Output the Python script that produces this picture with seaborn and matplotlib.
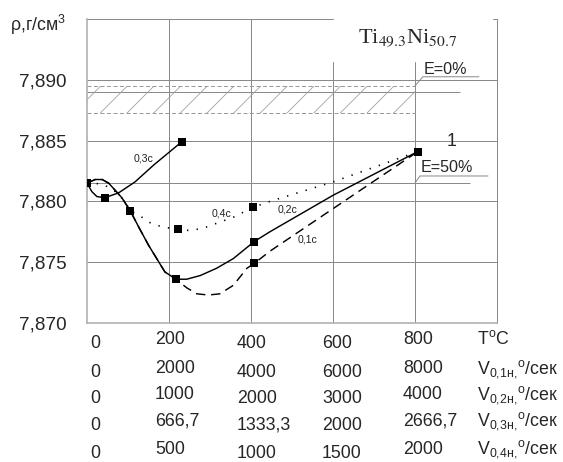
import matplotlib
matplotlib.use('Agg')
import matplotlib.pyplot as plt
import matplotlib.transforms as mtransforms
import pandas as pd
import seaborn as sns

# markers (T in °C, density in g/cm3)
t_03 = [0, 44, 231]
rho_03 = [7.8815, 7.8803, 7.8849]
t_02 = [0, 106, 217, 408, 807]
rho_02 = [7.8815, 7.8792, 7.8736, 7.8767, 7.8841]
t_01 = [0, 106, 217, 408, 807]
rho_01 = [7.8815, 7.8792, 7.8736, 7.8749, 7.8841]
t_04 = [0, 106, 223, 404, 807]
rho_04 = [7.8815, 7.8792, 7.8777, 7.8795, 7.8841]

# smoothed curves as traced on the chart
curve_03_t = [0, 12, 24, 43, 77, 117, 163, 231]
curve_03_rho = [7.8815, 7.8808, 7.8804, 7.8803, 7.8807, 7.8816, 7.8830, 7.8849]
curve_02_t = [0, 20, 37, 53, 69, 85, 106, 126, 150, 170, 190, 217, 243, 276, 316, 357, 408, 446, 600, 807]
curve_02_rho = [7.8815, 7.8818, 7.8818, 7.8815, 7.8809, 7.8803, 7.8792, 7.8779, 7.8764, 7.8753,
                7.8742, 7.8736, 7.8736, 7.8739, 7.8745, 7.8753, 7.8767, 7.8775, 7.8805, 7.8841]
curve_01_t = [0, 20, 37, 53, 69, 85, 106, 126, 150, 170, 190, 217, 243, 268, 296, 324, 357, 390, 408, 446, 600, 807]
curve_01_rho = [7.8815, 7.8818, 7.8818, 7.8815, 7.8809, 7.8803, 7.8792, 7.8779, 7.8764, 7.8753,
                7.8742, 7.8736, 7.8729, 7.8724, 7.8723, 7.8724, 7.8731, 7.8745, 7.8749, 7.8759, 7.8794, 7.8841]
curve_04_t = [0, 20, 45, 69, 90, 106, 126, 150, 183, 223, 251, 284, 316, 357, 404, 446, 600, 807]
curve_04_rho = [7.8815, 7.8815, 7.8813, 7.8808, 7.8801, 7.8792, 7.8789, 7.8783, 7.8779, 7.8777,
                7.8776, 7.8778, 7.8782, 7.8787, 7.8795, 7.8800, 7.8816, 7.8841]

# reference band and levels
band_lo, band_mid, band_hi = 7.8873, 7.8890, 7.8895
e50_level = 7.8815

yticks = [7.870, 7.875, 7.880, 7.885, 7.890]
ytick_labels = ['7,870', '7,875', '7,880', '7,885', '7,890']

temp_labels = ['0', '200', '400', '600', '800']
v01_labels = ['0', '2000', '4000', '6000', '8000']
v02_labels = ['0', '1000', '2000', '3000', '4000']
v03_labels = ['0', '666,7', '1333,3', '2000', '2666,7']
v04_labels = ['0', '500', '1000', '1500', '2000']
row_names = [r'T$^{\mathrm{o}}$C',
             r'V$_{\mathrm{0{,}1н{,}}}$$^{\mathrm{o}}$/сек',
             r'V$_{\mathrm{0{,}2н{,}}}$$^{\mathrm{o}}$/сек',
             r'V$_{\mathrm{0{,}3н{,}}}$$^{\mathrm{o}}$/сек',
             r'V$_{\mathrm{0{,}4н{,}}}$$^{\mathrm{o}}$/сек']

sns.set_theme(style='white')
plt.rcParams['font.family'] = ['Liberation Sans', 'DejaVu Sans']
plt.rcParams['mathtext.fontset'] = 'custom'
plt.rcParams['mathtext.rm'] = 'Liberation Sans'
plt.rcParams['mathtext.it'] = 'Liberation Sans:italic'
plt.rcParams['hatch.linewidth'] = 0.7

DPI = 80
W, H = 563, 462
fig = plt.figure(figsize=(W / DPI, H / DPI), dpi=DPI)
ax = fig.add_axes([87 / W, 1 - 323 / H, 410 / W, 304 / H])
ax.set_xlim(0, 1000)
ax.set_ylim(7.870, 7.895)

gc = '#8a8a8a'
# grid
for y in yticks[1:]:
    ax.axhline(y, color=gc, lw=0.9, zorder=1)
ax.axhline(7.895, xmax=0.6, color=gc, lw=0.9)
ax.axhline(7.895, xmin=0.99, color=gc, lw=0.9)
ax.axvline(200, color=gc, lw=0.9, zorder=1)
ax.axvline(400, color=gc, lw=0.9, zorder=1)
ax.axvline(600, ymax=0.86, color=gc, lw=0.9, zorder=1)
ax.axvline(800, ymax=0.86, color=gc, lw=0.9, zorder=1)
ax.hlines(e50_level, 0, 934, color=gc, lw=0.9, zorder=1)
ax.hlines(band_mid, 0, 910, color=gc, lw=0.9, zorder=1)

# hatched band
ax.fill_between([0, 800], band_lo, band_hi, facecolor='none', edgecolor='#9a9a9a',
                hatch='/', linewidth=0, zorder=1)
ax.hlines([band_lo, band_hi], 0, 800, color='#9a9a9a', lw=0.9, linestyles=(0, (4, 2.5)), zorder=1)

# E labels with leaders
ax.plot([800, 819, 956], [band_hi, 7.89025, 7.89025], color=gc, lw=0.9)
ax.text(822, 7.89045, 'E=0%', fontsize=14.5, ha='left', va='baseline')
ax.plot([800, 812, 978], [e50_level, 7.88209, 7.88209], color=gc, lw=0.9)
ax.text(814, 7.88244, 'E=50%', fontsize=14.5, ha='left', va='baseline')
ax.text(888, 7.8849, '1', fontsize=16, ha='center', va='center')

# curves
sns.lineplot(x=curve_03_t, y=curve_03_rho, color='black', lw=1.3, estimator=None, sort=False, ax=ax)
sns.lineplot(x=curve_02_t, y=curve_02_rho, color='black', lw=1.3, estimator=None, sort=False, ax=ax)
sns.lineplot(x=curve_01_t, y=curve_01_rho, color='black', lw=1.3, estimator=None, sort=False,
             linestyle=(0, (6.5, 4)), ax=ax)
sns.lineplot(x=curve_04_t, y=curve_04_rho, color='black', lw=1.5, estimator=None, sort=False,
             linestyle=(0, (0.8, 5)), ax=ax)

markers = pd.DataFrame({
    't': t_03 + t_02 + t_01 + t_04,
    'rho': rho_03 + rho_02 + rho_01 + rho_04,
})
sns.scatterplot(data=markers, x='t', y='rho', marker='s', s=50, color='black',
                linewidth=0, zorder=5, ax=ax)

# curve labels
lab_kw = dict(fontsize=9.5, color='#222222', ha='center', va='center')
ax.text(137, 7.8835, '0,3c', **lab_kw)
ax.text(329, 7.8790, '0,4c', **lab_kw)
ax.text(490, 7.8793, '0,2c', **lab_kw)
ax.text(539, 7.8769, '0,1c', **lab_kw)

# title
ax.text(783, 7.8934, r'Ti$_{\mathrm{49.3}}$Ni$_{\mathrm{50.7}}$', fontsize=20,
        family='Liberation Serif', math_fontfamily='stix', ha='center', va='center')

# axes styling
ax.set_yticks(yticks)
ax.set_yticklabels(ytick_labels, fontsize=17)
ax.set_xticks([])
ax.tick_params(axis='y', length=0, pad=18)
ax.spines['top'].set_visible(False)
for side in ['left', 'bottom']:
    ax.spines[side].set_color('#b0b0b0')
    ax.spines[side].set_linewidth(1.5)
ax.spines['right'].set_color(gc)
ax.spines['right'].set_linewidth(0.9)
ax.set_xlabel('')
ax.set_ylabel('')

fig.text(10 / W, 1 - 31 / H, 'ρ,г/см$^{3}$', fontsize=16, ha='left', va='baseline')

# table of scales under the axis
col_x = [7, 166, 366, 573, 771, 951]
raised = {1, 4, 5}
row_base = [347.5, 377, 403, 430, 458]
trans = mtransforms.blended_transform_factory(ax.transData, fig.transFigure)
rows = [temp_labels, v01_labels, v02_labels, v03_labels, v04_labels]
for r, labels in enumerate(rows):
    cells = labels + [row_names[r]]
    for c, txt in enumerate(cells):
        yb = row_base[r] - (4 if c in raised else 0)
        ax.text(col_x[c], 1 - yb / H, txt, transform=trans, fontsize=16,
                ha='left', va='baseline', clip_on=False)

fig.savefig('out.png', dpi=DPI)
